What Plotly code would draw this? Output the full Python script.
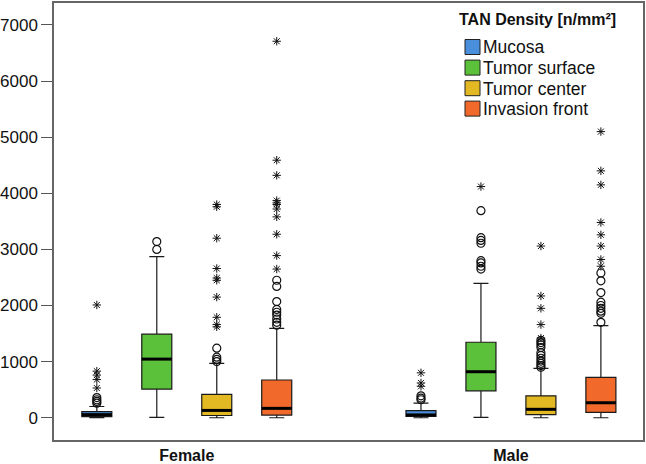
import numpy as np
import plotly.graph_objects as go

# ---------------- data ----------------
categories = ["Female", "Male"]
series = ["Mucosa", "Tumor surface", "Tumor center", "Invasion front"]
colors = ["#4A8FDB", "#5CC13A", "#E2B823", "#F26A2B"]
legend_title = "TAN Density [n/mm²]"

mucosa_q1 = [20, 25]
mucosa_median = [55, 50]
mucosa_q3 = [110, 125]
mucosa_lower = [0, 0]
mucosa_upper = [200, 260]
mucosa_out_female = [260, 290, 320, 360]
mucosa_out_male = [320, 350, 390]
mucosa_ext_female = [530, 680, 760, 830, 2010]
mucosa_ext_male = [560, 620, 800]

surface_q1 = [510, 480]
surface_median = [1045, 820]
surface_q3 = [1490, 1345]
surface_lower = [5, 5]
surface_upper = [2870, 2395]
surface_out_female = [3000, 3140]
surface_out_male = [2650, 2700, 2760, 2800, 3110, 3160, 3210, 3690]
surface_ext_female = []
surface_ext_male = [4120]

center_q1 = [40, 55]
center_median = [130, 150]
center_q3 = [415, 390]
center_lower = [0, 0]
center_upper = [970, 880]
center_out_female = [1000, 1040, 1080, 1240]
center_out_male = [900, 930, 970, 1010, 1060, 1110, 1160, 1250, 1300, 1340, 1380]
center_ext_female = [1620, 1660, 1790, 2150, 2450, 2490, 2660, 3200, 3760, 3800]
center_ext_male = [1420, 1660, 1950, 2170, 3060]

invasion_q1 = [48, 96]
invasion_median = [167, 267]
invasion_q3 = [672, 720]
invasion_lower = [0, 0]
invasion_upper = [1593, 1640]
invasion_out_female = [1650, 1700, 1760, 1830, 1880, 1930, 2070, 2340, 2450]
invasion_out_male = [1700, 1860, 1900, 1950, 2000, 2060, 2230, 2440, 2580]
invasion_ext_female = [2650, 2890, 3270, 3580, 3720, 3800, 3830, 3870, 4320, 4590, 6710]
invasion_ext_male = [2700, 2820, 3060, 3260, 3480, 4150, 4400, 5100]

y_ticks = [0, 1000, 2000, 3000, 4000, 5000, 6000, 7000]

stats = [
    (mucosa_q1, mucosa_median, mucosa_q3, mucosa_lower, mucosa_upper,
     [mucosa_out_female, mucosa_out_male], [mucosa_ext_female, mucosa_ext_male]),
    (surface_q1, surface_median, surface_q3, surface_lower, surface_upper,
     [surface_out_female, surface_out_male], [surface_ext_female, surface_ext_male]),
    (center_q1, center_median, center_q3, center_lower, center_upper,
     [center_out_female, center_out_male], [center_ext_female, center_ext_male]),
    (invasion_q1, invasion_median, invasion_q3, invasion_lower, invasion_upper,
     [invasion_out_female, invasion_out_male], [invasion_ext_female, invasion_ext_male]),
]

# ---------------- layout helpers ----------------
W, H = 646, 464
ML, MR, MT, MB = 54, 3, 3, 24
PW, PH = W - ML - MR, H - MT - MB

slot = 0.185
box_w = 0.0926
offsets = (np.arange(len(series)) - 1.5) * slot
FONT = "Liberation Sans, Arial, sans-serif"


def px_x(p):
    return (p - ML) / PW


def px_y(p):
    return 1 - (p - MT) / PH


fig = go.Figure()

for i, (name, col, st) in enumerate(zip(series, colors, stats)):
    q1, med, q3, lo, hi, outs, exts = st
    pos = [g + offsets[i] for g in range(len(categories))]
    fig.add_trace(go.Box(
        x=pos, q1=q1, median=med, q3=q3, lowerfence=lo, upperfence=hi,
        width=box_w, whiskerwidth=0.5, fillcolor=col, name=name,
        line=dict(color="#1a1a1a", width=1.2), boxpoints=False,
        showlegend=False,
    ))
    # thick median lines
    mx, my = [], []
    for p, m in zip(pos, med):
        mx += [p - box_w / 2, p + box_w / 2, None]
        my += [m, m, None]
    fig.add_trace(go.Scatter(x=mx, y=my, mode="lines",
                             line=dict(color="#000", width=3),
                             showlegend=False, hoverinfo="skip"))
    # outliers (circles) and extremes (stars)
    ox, oy, ex, ey = [], [], [], []
    for p, o, e in zip(pos, outs, exts):
        ox += [p] * len(o); oy += list(o)
        ex += [p] * len(e); ey += list(e)
    fig.add_trace(go.Scatter(x=ox, y=oy, mode="markers",
                             marker=dict(symbol="circle-open", size=8,
                                         color="#111", line=dict(width=1.2)),
                             showlegend=False, hoverinfo="skip"))
    fig.add_trace(go.Scatter(x=ex, y=ey, mode="markers",
                             marker=dict(symbol="asterisk-open", size=7,
                                         color="#111", line=dict(width=1.0)),
                             showlegend=False, hoverinfo="skip"))

# ---------------- legend (drawn manually for exact spacing) ----------------
shapes, annotations = [], []
annotations.append(dict(
    text="<b>%s</b>" % legend_title, xref="paper", yref="paper",
    x=px_x(457), y=px_y(20), xanchor="left", yanchor="middle",
    showarrow=False, font=dict(size=16, family=FONT, color="#111")))
item_y = [47, 67.6, 88.2, 108.6]
for name, col, cy in zip(series, colors, item_y):
    shapes.append(dict(
        type="rect", xref="paper", yref="paper",
        x0=px_x(465), x1=px_x(480), y0=px_y(cy + 7.5), y1=px_y(cy - 7.5),
        fillcolor=col, line=dict(color="#222", width=1)))
    annotations.append(dict(
        text=name, xref="paper", yref="paper",
        x=px_x(481), y=px_y(cy + 0.5), xanchor="left", yanchor="middle",
        showarrow=False, font=dict(size=17.5, family=FONT, color="#111")))

fig.update_layout(
    width=W, height=H,
    margin=dict(l=ML, r=MR, t=MT, b=MB, autoexpand=False),
    paper_bgcolor="white", plot_bgcolor="white",
    boxmode="overlay", showlegend=False,
    font=dict(family=FONT, color="#111"),
    shapes=shapes, annotations=annotations,
    xaxis=dict(
        range=[-0.4096, 1.4074], tickmode="array",
        tickvals=list(range(len(categories))),
        ticktext=["<b>%s</b>" % c for c in categories],
        tickfont=dict(size=16, family=FONT, color="#111"),
        ticks="", showgrid=False, zeroline=False, ticklabelstandoff=0,
        automargin=False,
        showline=True, linecolor="#666", linewidth=1.5, mirror=True,
    ),
    yaxis=dict(
        range=[-397, 7392], tickmode="array", tickvals=y_ticks,
        tickfont=dict(size=17, family=FONT, color="#111"),
        ticks="outside", ticklen=11, tickcolor="#555", tickwidth=1.3,
        automargin=False,
        showgrid=False, zeroline=False,
        showline=True, linecolor="#666", linewidth=1.5, mirror=True,
    ),
)

fig.write_html("out.html", config={"displayModeBar": False},
               post_script="document.body.style.margin='0';")
